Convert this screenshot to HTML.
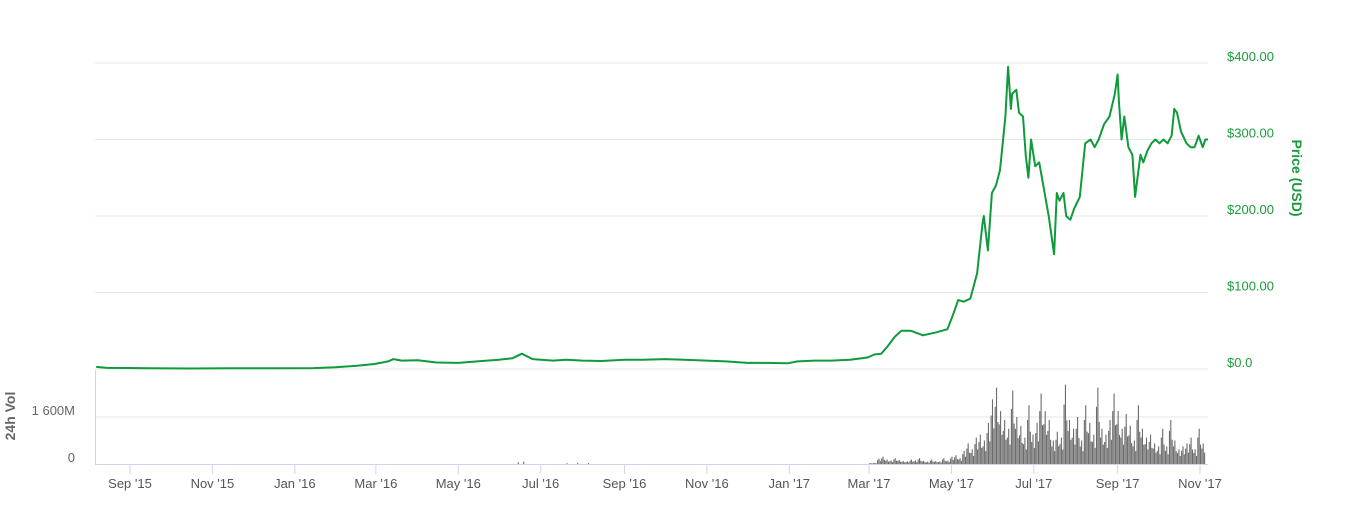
<!DOCTYPE html>
<html><head><meta charset="utf-8"><style>
body{margin:0;background:#fff;}
svg{display:block;font-family:"Liberation Sans",sans-serif;}
</style></head><body>
<svg id="c" width="1346" height="509"></svg>
<script>
const priceDates=["2015-08-07","2015-08-15","2015-09-15","2015-10-15","2015-11-15","2015-12-15","2016-01-15","2016-01-31","2016-02-15","2016-02-29","2016-03-10","2016-03-14","2016-03-20","2016-04-01","2016-04-15","2016-05-01","2016-05-15","2016-05-31","2016-06-10","2016-06-17","2016-06-25","2016-07-10","2016-07-20","2016-08-01","2016-08-15","2016-09-01","2016-09-15","2016-10-01","2016-10-15","2016-11-01","2016-11-15","2016-12-01","2016-12-15","2016-12-31","2017-01-07","2017-01-20","2017-02-01","2017-02-15","2017-02-28","2017-03-05","2017-03-10","2017-03-14","2017-03-20","2017-03-25","2017-04-01","2017-04-10","2017-04-20","2017-04-28","2017-05-02","2017-05-06","2017-05-10","2017-05-15","2017-05-20","2017-05-24","2017-05-25","2017-05-28","2017-05-31","2017-06-03","2017-06-06","2017-06-10","2017-06-12","2017-06-14","2017-06-15","2017-06-18","2017-06-20","2017-06-23","2017-06-25","2017-06-27","2017-06-29","2017-07-02","2017-07-05","2017-07-08","2017-07-12","2017-07-16","2017-07-18","2017-07-20","2017-07-23","2017-07-25","2017-07-28","2017-07-31","2017-08-04","2017-08-08","2017-08-12","2017-08-15","2017-08-18","2017-08-22","2017-08-26","2017-08-30","2017-09-01","2017-09-02","2017-09-04","2017-09-06","2017-09-09","2017-09-12","2017-09-14","2017-09-15","2017-09-18","2017-09-20","2017-09-23","2017-09-26","2017-09-29","2017-10-02","2017-10-05","2017-10-08","2017-10-11","2017-10-13","2017-10-15","2017-10-18","2017-10-22","2017-10-25","2017-10-28","2017-10-31","2017-11-03","2017-11-05","2017-11-07"];
const priceValues=[2.8,1.5,1.0,0.6,0.9,0.9,1.2,2.2,4,6.5,10,13,11,11.5,8.5,8,10,12,14,20,13,11,12,11,10.5,12,12,13,12,11,10,8,8,7.5,10,11,11,12,15,19,20,28,42,50,50,44,48,52,70,90,88,92,125,190,200,155,230,240,260,330,395,340,360,365,335,330,280,250,300,265,270,240,200,150,230,220,230,200,195,210,225,295,300,290,300,320,330,360,385,350,300,330,290,280,225,240,280,270,285,295,300,295,300,295,305,340,335,310,295,290,290,305,290,300,300];
const volStart="2017-03-01";
const volStepDays=3;
const volValues=[30,40,180,250,150,120,200,140,100,90,150,120,200,110,80,150,100,90,200,120,250,300,200,450,700,500,900,1000,800,1400,2200,2600,1800,1500,1200,2500,1600,1300,900,2000,1000,1400,2400,1800,1500,800,1100,900,2700,1500,1200,1600,800,2000,1400,1000,2600,1200,1000,1500,2400,1800,1200,1700,1300,800,2000,1200,900,1000,700,600,1200,600,1500,800,500,600,700,900,500,1200,700];
const earlyVolDates=["2016-06-14","2016-06-18","2016-07-20","2016-07-28","2016-08-05"];
const earlyVolValues=[60,80,30,40,30];
const priceTicks=[0,100,200,300,400];
const priceTickLabels=["$0.0","$100.00","$200.00","$300.00","$400.00"];
const volTicks=[0,1600];
const volTickLabels=["0","1 600M"];
const xTickDates=["2015-09-01","2015-11-01","2016-01-01","2016-03-01","2016-05-01","2016-07-01","2016-09-01","2016-11-01","2017-01-01","2017-03-01","2017-05-01","2017-07-01","2017-09-01","2017-11-01"];
const xTickLabels=["Sep '15","Nov '15","Jan '16","Mar '16","May '16","Jul '16","Sep '16","Nov '16","Jan '17","Mar '17","May '17","Jul '17","Sep '17","Nov '17"];

const NS="http://www.w3.org/2000/svg";
const svg=document.getElementById('c');
const day=86400000;
const t0=Date.parse("2015-09-01"), pxDay=1.351;
const X=d=>130+(Date.parse(d)-t0)/day*pxDay;
const Xt=t=>130+(t-t0)/day*pxDay;
const Y=p=>369-p*0.765;
const VY=v=>464-v*(47/1600);
function el(tag,attrs,parent){const e=document.createElementNS(NS,tag);for(const k in attrs)e.setAttribute(k,attrs[k]);(parent||svg).appendChild(e);return e;}
const L=95,R=1208;
priceTicks.forEach((p,i)=>{
  const g=el('line',{x1:L,x2:R,y1:Y(p),y2:Y(p),stroke:'#e6e6e6','stroke-width':1});
  
  
  const t=el('text',{x:1227,y:Y(p)-2,fill:'#1a9a3c','font-size':13});
  t.textContent=priceTickLabels[i];
  
  
});
volTicks.forEach((v,i)=>{
  if(v>0){const g=el('line',{x1:L,x2:R,y1:VY(v),y2:VY(v),stroke:'#e6e6e6'});
  
  }
  const t=el('text',{x:75,y:VY(v)-2,fill:'#666','font-size':13,'text-anchor':'end'});
  t.textContent=volTickLabels[i];
  
  
});
const vt0=Date.parse(volStart);
volValues.forEach((v,i)=>{
  for(let k=0;k<volStepDays;k++){
    const x=Xt(vt0+(i*volStepDays+k)*day);
    const f=k==1?1:(k==0?0.75:0.55);
    const b=el('rect',{x:x,y:VY(v*f),width:1.1,height:464-VY(v*f),fill:'#6b6b6b'});
    
    
  }
});
earlyVolDates.forEach((d,i)=>{
  const b=el('rect',{x:X(d),y:VY(earlyVolValues[i]),width:1.1,height:464-VY(earlyVolValues[i]),fill:'#6b6b6b'});
  
  
});
const ax=el('line',{x1:L,x2:R,y1:464.5,y2:464.5,stroke:'#ccd6eb'});


const ay=el('line',{x1:95.5,x2:95.5,y1:370,y2:464,stroke:'#ccd6eb'});


xTickDates.forEach((d,i)=>{
  const x=X(d);
  const tk=el('line',{x1:x,x2:x,y1:464,y2:474,stroke:'#ccd6eb'});
  
  
  const t=el('text',{x:x,y:488,fill:'#555','font-size':13,'text-anchor':'middle'});
  t.textContent=xTickLabels[i];
  
  
});
const pts=priceDates.map((d,i)=>X(d).toFixed(1)+','+Y(priceValues[i]).toFixed(1)).join(' ');
const pl=el('polyline',{points:pts,fill:'none',stroke:'#0f9a3c','stroke-width':2,'stroke-linejoin':'round'});


const pt=el('text',{x:1292,y:178,fill:'#1a9a3c','font-size':14,'font-weight':'bold','text-anchor':'middle',transform:'rotate(90 1292 178)'});
pt.textContent='Price (USD)';


const vtt=el('text',{x:15,y:416,fill:'#666','font-size':14,'font-weight':'bold','text-anchor':'middle',transform:'rotate(-90 15 416)'});
vtt.textContent='24h Vol';


</script>
</body></html>
